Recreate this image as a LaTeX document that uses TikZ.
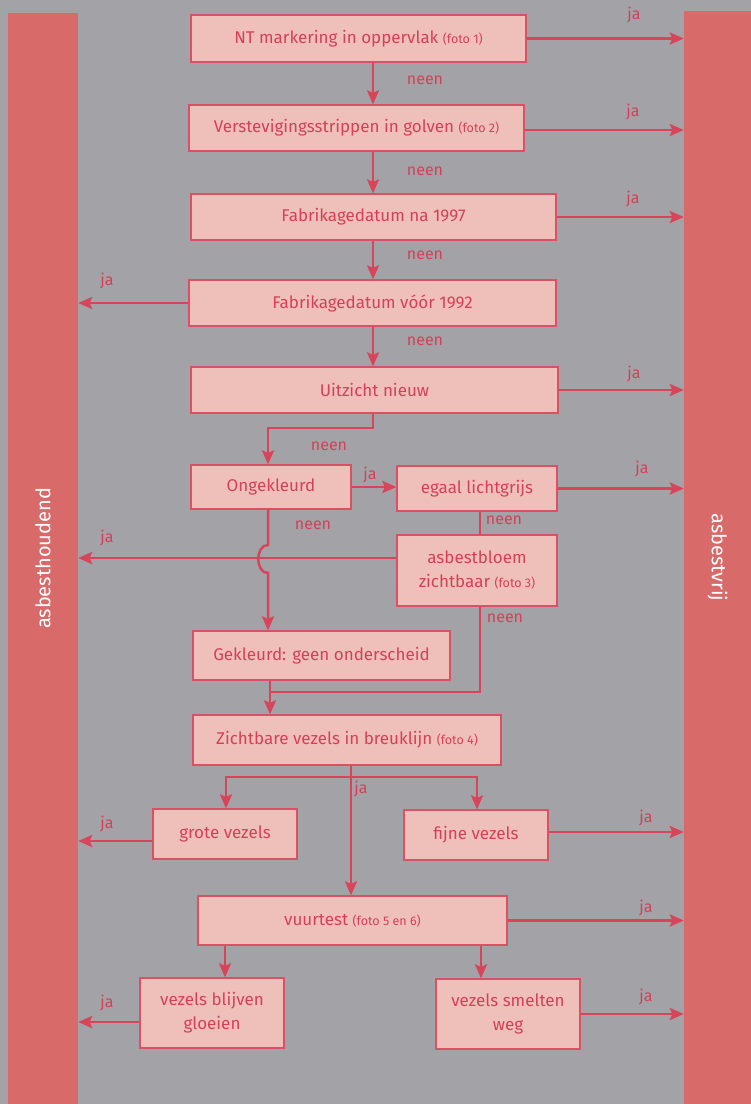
\documentclass[tikz,border=0pt]{standalone}
\usepackage{fontspec}
\setmainfont{Fira Sans}
\usetikzlibrary{arrows.meta,calc}
\definecolor{bg}{HTML}{A3A2A6}
\definecolor{barc}{HTML}{D96A6A}
\definecolor{boxfill}{HTML}{EFC0B9}
\definecolor{boxdraw}{HTML}{DA5064}
\definecolor{lnc}{HTML}{D8455A}
\definecolor{txtc}{HTML}{D54058}
\newcommand{\foto}[1]{{\fontsize{12.5}{14}\selectfont(foto #1)}}
\begin{document}
\begin{tikzpicture}[x=1pt,y=-1pt,
  box/.style={draw=boxdraw, fill=boxfill, line width=1.3pt, text=txtc,
    font=\fontsize{17}{24}\selectfont, align=center, inner sep=0pt},
  barbox/.style={fill=barc, text=white, inner sep=0pt, font=\fontsize{20}{22}\selectfont},
  conn/.style={draw=lnc, line width=2.5pt},
  arr/.style={conn, -{Stealth[length=14pt,width=12pt,inset=2.5pt]}},
  lab/.style={text=txtc, font=\fontsize{16}{18}\selectfont, inner sep=0pt}
]
\fill[bg] (0,0) rectangle (751,1104);
\useasboundingbox (0,0) rectangle (751,1104);

% bars
\node[barbox, rotate=90, minimum width=1091pt, minimum height=70pt] (lbar) at (43,558.5) {asbesthoudend};
\node[barbox, rotate=-90, minimum width=1093pt, minimum height=67pt] (rbar) at (717.5,557.5) {asbestvrij};

% boxes
\node[box, minimum width=335pt, minimum height=47pt] (n1) at (358.5,38.5) {NT markering in oppervlak \foto{1}};
\node[box, minimum width=335pt, minimum height=46pt] (n2) at (356.5,128) {Verstevigingsstrippen in golven \foto{2}};
\node[box, minimum width=365pt, minimum height=46pt] (n3) at (373.5,217) {Fabrikagedatum na 1997};
\node[box, minimum width=367pt, minimum height=46pt] (n4) at (372.5,303) {Fabrikagedatum vóór 1992};
\node[box, minimum width=367pt, minimum height=46pt] (n5) at (374.5,390) {Uitzicht nieuw};
\node[box, minimum width=160pt, minimum height=44pt] (n6) at (271,487) {Ongekleurd};
\node[box, minimum width=160pt, minimum height=45pt] (n7) at (477,488.5) {egaal lichtgrijs};
\node[box, minimum width=160pt, minimum height=71pt] (n8) at (477,570.5) {asbestbloem\\zichtbaar \foto{3}};
\node[box, minimum width=257pt, minimum height=49pt] (n9) at (321.5,655.5) {Gekleurd: geen onderscheid};
\node[box, minimum width=308pt, minimum height=50pt] (n10) at (347,740) {Zichtbare vezels in breuklijn \foto{4}};
\node[box, minimum width=144pt, minimum height=50pt] (n11) at (225,834) {grote vezels};
\node[box, minimum width=144pt, minimum height=50pt] (n12) at (476,835) {fijne vezels};
\node[box, minimum width=309pt, minimum height=49pt] (n13) at (352.5,920.5) {vuurtest {\fontsize{12.5}{14}\selectfont(foto 5 en 6)}};
\node[box, minimum width=144pt, minimum height=70pt] (n14) at (212,1013) {vezels blijven\\gloeien};
\node[box, minimum width=144pt, minimum height=70pt] (n15) at (508,1014) {vezels smelten\\weg};

% helper coordinates
\coordinate (c373) at (373,0);
\coordinate (t5) at (373,428);
\coordinate (j) at (268,558);
\coordinate (c480) at (480,0);
\coordinate (m) at (270,692);
\coordinate (b) at (351,777);
\coordinate (c481) at (481,0);

% main column
\draw[arr] (n1.south -| c373) -- (n2.north -| c373);
\draw[arr] (n2.south -| c373) -- (n3.north -| c373);
\draw[arr] (n3.south -| c373) -- (n4.north -| c373);
\draw[arr] (n4.south -| c373) -- (n5.north -| c373);
\draw[arr] (n5.south -| c373) -- (t5) -| (n6.north -| j);

% to the bars
\draw[arr] (n1.east) -- (n1.east -| rbar.south);
\draw[arr] ($(n2.east)+(0,2)$) -- ($(n2.east -| rbar.south)+(0,2)$);
\draw[arr] (n3.east) -- (n3.east -| rbar.south);
\draw[arr] (n4.west) -- (n4.west -| lbar.south);
\draw[arr] (n5.east) -- (n5.east -| rbar.south);
\draw[arr] (n6.east) -- (n7.west |- n6.east);
\draw[arr] (n7.east) -- (n7.east -| rbar.south);
\draw[conn] (n7.south -| c480) -- (n8.north -| c480);
\draw[arr] (n8.west |- j) -- (j -| lbar.south);
\draw[arr] (n6.south -| j) -- ($(j)+(0,-13)$) .. controls ($(j)+(-13,-13)$) and ($(j)+(-13,15)$) .. ($(j)+(0,15)$) -- (n9.north -| j);
\draw[conn] (n8.south -| c480) |- (m);
\draw[arr] (n9.south -| m) -- (n10.north -| m);
\draw[arr] (n10.south -| b) -- (n13.north -| b);
\draw[arr] (b) -| ($(n11.north)+(1,0)$);
\draw[arr] (b) -| ($(n12.north)+(1,0)$);
\draw[arr] ($(n11.west)+(0,7)$) -- ($(n11.west -| lbar.south)+(0,7)$);
\draw[arr] ($(n12.east)+(0,-3)$) -- ($(n12.east -| rbar.south)+(0,-3)$);
\draw[arr] (n13.east) -- (n13.east -| rbar.south);
\draw[arr] (n13.south -| n11) -- (n14.north -| n11);
\draw[arr] (n13.south -| c481) -- (n15.north -| c481);
\draw[arr] ($(n14.west)+(0,9)$) -- ($(n14.west -| lbar.south)+(0,9)$);
\draw[arr] (n15.east) -- (n15.east -| rbar.south);

% labels
\node[lab] (l1) at (425,80) {neen};
\node[lab] (l2) at (425,171) {neen};
\node[lab] (l3) at (425,255) {neen};
\node[lab] (l4) at (425,341) {neen};
\node[lab] (l5) at (329,446) {neen};
\node[lab] (l6) at (313,525) {neen};
\node[lab] (l7) at (504,520) {neen};
\node[lab] (l8) at (505,618) {neen};
\node[lab] (j1) at (634,15) {ja};
\node[lab] (j2) at (633,112) {ja};
\node[lab] (j3) at (633,199) {ja};
\node[lab] (j4) at (107,281) {ja};
\node[lab] (j5) at (634,374) {ja};
\node[lab] (j6) at (370,475) {ja};
\node[lab] (j7) at (642,469) {ja};
\node[lab] (j8) at (107,538) {ja};
\node[lab] (j9) at (361,789) {ja};
\node[lab] (j10) at (107,824) {ja};
\node[lab] (j11) at (646,818) {ja};
\node[lab] (j12) at (646,908) {ja};
\node[lab] (j13) at (107,1003) {ja};
\node[lab] (j14) at (646,997) {ja};
\end{tikzpicture}
\end{document}
